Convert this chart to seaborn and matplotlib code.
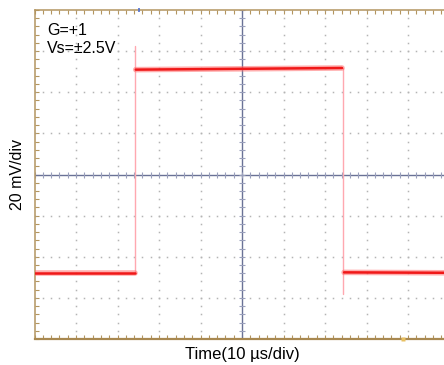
import numpy as np
import pandas as pd
import seaborn as sns
import matplotlib
matplotlib.use("Agg")
import matplotlib.pyplot as plt
from matplotlib.ticker import MultipleLocator

# ---- data (time in µs, signal in mV) ----
low1_t = [0.0, 24.2]
low1_mv = [-47.7, -47.7]
high_t = [24.4, 50.0, 74.1]
high_mv = [51.0, 51.4, 51.8]
low2_t = [74.6, 100.0]
low2_mv = [-47.6, -47.8]
rise_t = [24.3, 24.3]
rise_mv = [-47.7, 62.5]
fall_t = [74.3, 74.3]
fall_mv = [51.8, -58.0]

x_label = "Time(10 µs/div)"
y_label = "20 mV/div"
note_lines = ["G=+1", "Vs=±2.5V"]

sns.set_theme(style="white")
plt.rcParams["font.family"] = ["Liberation Sans", "DejaVu Sans"]

W, H = 444, 365
fig = plt.figure(figsize=(W / 100, H / 100), dpi=100)
fig.patch.set_facecolor("white")
ax = fig.add_axes([34.5 / W, 26 / H, 415 / W, 329 / H])
ax.set_facecolor("white")

XMIN, XMAX, XDIV = 0, 100, 10
YMIN, YMAX, YDIV = -80, 80, 20
ax.set_xlim(XMIN, XMAX)
ax.set_ylim(YMIN, YMAX)

# dotted graticule
dot_c = "#b4b4b4"
xs_minor = np.arange(XMIN, XMAX + 0.01, XDIV / 5)
ys_minor = np.arange(YMIN, YMAX + 0.01, YDIV / 5)
for xv in np.arange(XMIN + XDIV, XMAX, XDIV):
    if xv == 50:
        continue
    ax.plot(np.full_like(ys_minor, xv), ys_minor, ls="none", marker="s",
            ms=1.1, mec="none", mfc=dot_c, zorder=1)
for yv in np.arange(YMIN + YDIV, YMAX, YDIV):
    if yv == 0:
        continue
    ax.plot(xs_minor, np.full_like(xs_minor, yv), ls="none", marker="s",
            ms=1.1, mec="none", mfc=dot_c, zorder=1)

# centre cross with small ticks
cc = "#6a7296"
ax.axhline(0, color=cc, lw=1.0, zorder=2)
ax.axvline(50, color=cc, lw=1.0, zorder=2)
ax.plot(xs_minor, np.zeros_like(xs_minor), ls="none", marker="|", ms=4.5,
        mew=0.8, color="#9aa0bc", zorder=2)
ax.plot(np.full_like(ys_minor, 50), ys_minor, ls="none", marker="_", ms=4.5,
        mew=0.8, color="#9aa0bc", zorder=2)

# waveform
levels = pd.DataFrame({
    "t": low1_t + high_t + low2_t,
    "mv": low1_mv + high_mv + low2_mv,
    "seg": ["a"] * len(low1_t) + ["b"] * len(high_t) + ["c"] * len(low2_t),
})
edges = pd.DataFrame({
    "t": rise_t + fall_t,
    "mv": rise_mv + fall_mv,
    "seg": ["r"] * len(rise_t) + ["f"] * len(fall_t),
})
sns.lineplot(data=edges, x="t", y="mv", units="seg", estimator=None, sort=False,
             color="#ffa8b0", lw=1.0, ax=ax, zorder=3)
sns.lineplot(data=levels, x="t", y="mv", units="seg", estimator=None, sort=False,
             color="#ff6a6a", lw=4.0, alpha=0.55, ax=ax, zorder=4)
sns.lineplot(data=levels, x="t", y="mv", units="seg", estimator=None, sort=False,
             color="#f01818", lw=1.8, ax=ax, zorder=5)

# border
bc = "#b39560"
for s in ["left", "top"]:
    ax.spines[s].set_color(bc)
    ax.spines[s].set_linewidth(1.1)
ax.spines["bottom"].set_color("#a88850")
ax.spines["bottom"].set_linewidth(1.6)
ax.spines["right"].set_visible(False)
ax.xaxis.set_major_locator(MultipleLocator(XDIV))
ax.xaxis.set_minor_locator(MultipleLocator(XDIV / 5))
ax.yaxis.set_major_locator(MultipleLocator(YDIV))
ax.yaxis.set_minor_locator(MultipleLocator(YDIV / 5))
ax.tick_params(which="both", direction="in", length=3, width=0.8, color=bc,
               top=True, bottom=True, left=True, right=False,
               labelbottom=False, labelleft=False, labeltop=False)

# small markers on the border
ax.plot([88.8], [YMIN], marker="s", ms=3, mec="none", mfc="#e8c060",
        clip_on=False, zorder=6)
ax.plot([25.3], [YMAX], marker="|", ms=3, mew=1.2, color="#5070d0",
        clip_on=False, zorder=6)

# texts
ax.text(0.030, 0.924, note_lines[0], transform=ax.transAxes, fontsize=11.5,
        va="baseline", ha="left", color="black")
ax.text(0.030, 0.869, note_lines[1], transform=ax.transAxes, fontsize=11.5,
        va="baseline", ha="left", color="black")
ax.set_xlabel(x_label, fontsize=12, color="black")
ax.set_ylabel(y_label, fontsize=11.5, color="black")
ax.xaxis.set_label_coords(0.5, -0.024)
ax.yaxis.set_label_coords(-0.023, 0.5)

fig.savefig("out.png", dpi=100, facecolor="white")
